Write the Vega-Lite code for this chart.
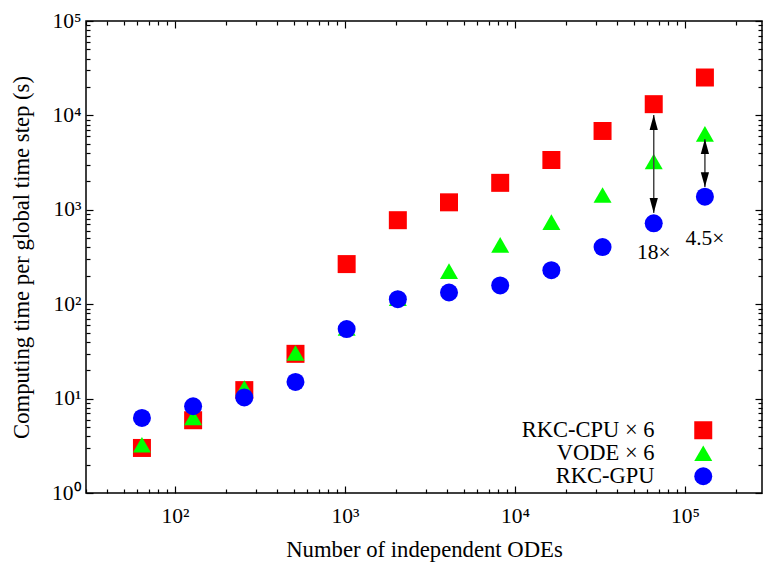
{
  "$schema": "https://vega.github.io/schema/vega-lite/v6.json",
  "width": 676,
  "height": 472,
  "autosize": "none",
  "padding": {"left": 86, "top": 21, "right": 1, "bottom": 69},
  "background": "white",
  "config": {
    "font": "Liberation Serif",
    "view": {"stroke": "black", "strokeWidth": 1.5},
    "axis": {"grid": false, "domain": false, "tickColor": "black", "labelColor": "black", "titleColor": "black", "labelFont": "Liberation Serif", "titleFont": "Liberation Serif", "titleFontWeight": "normal", "labelFontSize": 21.5, "titleFontSize": 22.7, "tickWidth": 1.2, "labelOverlap": false, "labelFlush": false, "labelBound": false}
  },
  "datasets": {
    "pts": [
      {"n": 64, "t": 3.0, "s": "RKC-CPU × 6"},
      {"n": 128, "t": 5.9, "s": "RKC-CPU × 6"},
      {"n": 256, "t": 12.3, "s": "RKC-CPU × 6"},
      {"n": 512, "t": 29.8, "s": "RKC-CPU × 6"},
      {"n": 1024, "t": 266, "s": "RKC-CPU × 6"},
      {"n": 2048, "t": 776, "s": "RKC-CPU × 6"},
      {"n": 4096, "t": 1200, "s": "RKC-CPU × 6"},
      {"n": 8192, "t": 1930, "s": "RKC-CPU × 6"},
      {"n": 16384, "t": 3370, "s": "RKC-CPU × 6"},
      {"n": 32768, "t": 6840, "s": "RKC-CPU × 6"},
      {"n": 65536, "t": 13150, "s": "RKC-CPU × 6"},
      {"n": 131072, "t": 25200, "s": "RKC-CPU × 6"},
      {"n": 64, "t": 3.24, "s": "VODE × 6"},
      {"n": 128, "t": 6.3, "s": "VODE × 6"},
      {"n": 256, "t": 12.9, "s": "VODE × 6"},
      {"n": 512, "t": 30.4, "s": "VODE × 6"},
      {"n": 1024, "t": 56, "s": "VODE × 6"},
      {"n": 2048, "t": 116, "s": "VODE × 6"},
      {"n": 4096, "t": 224, "s": "VODE × 6"},
      {"n": 8192, "t": 425, "s": "VODE × 6"},
      {"n": 16384, "t": 740, "s": "VODE × 6"},
      {"n": 32768, "t": 1435, "s": "VODE × 6"},
      {"n": 65536, "t": 3250, "s": "VODE × 6"},
      {"n": 131072, "t": 6370, "s": "VODE × 6"},
      {"n": 64, "t": 6.24, "s": "RKC-GPU"},
      {"n": 128, "t": 8.3, "s": "RKC-GPU"},
      {"n": 256, "t": 10.3, "s": "RKC-GPU"},
      {"n": 512, "t": 15.0, "s": "RKC-GPU"},
      {"n": 1024, "t": 54.5, "s": "RKC-GPU"},
      {"n": 2048, "t": 113, "s": "RKC-GPU"},
      {"n": 4096, "t": 133, "s": "RKC-GPU"},
      {"n": 8192, "t": 158, "s": "RKC-GPU"},
      {"n": 16384, "t": 229, "s": "RKC-GPU"},
      {"n": 32768, "t": 403, "s": "RKC-GPU"},
      {"n": 65536, "t": 719, "s": "RKC-GPU"},
      {"n": 131072, "t": 1377, "s": "RKC-GPU"}
    ],
    "arrows": [
      {"n": 65536, "top": 10100, "bottom": 927},
      {"n": 131072, "top": 5630, "bottom": 1740}
    ],
    "notes": [
      {"n": 65536, "t": 348, "label": "18×"},
      {"n": 131072, "t": 490, "label": "4.5×"}
    ]
  },
  "layer": [
    {
      "data": {"name": "pts"},
      "mark": {"type": "point", "filled": true, "size": 324, "opacity": 1, "strokeWidth": 0},
      "encoding": {
        "x": {"field": "n", "type": "quantitative",
          "scale": {"type": "log", "domain": [30, 284000], "nice": false},
          "axis": {"orient": "bottom", "title": "Number of independent ODEs",
            "values": [30,40,50,60,70,80,90,100,200,300,400,500,600,700,800,900,1000,2000,3000,4000,5000,6000,7000,8000,9000,10000,20000,30000,40000,50000,60000,70000,80000,90000,100000,200000],
            "labelExpr": "abs(log(datum.value)/LN10 - round(log(datum.value)/LN10)) < 1e-6 ? '10' + ['⁰','¹','²','³','⁴','⁵'][round(log(datum.value)/LN10)] : ''",
            "tickSize": {"condition": {"test": "abs(log(datum.value)/LN10 - round(log(datum.value)/LN10)) < 1e-6", "value": -7}, "value": -4},
            "labelPadding": 19, "titlePadding": 9}},
        "y": {"field": "t", "type": "quantitative",
          "scale": {"type": "log", "domain": [1, 100000], "nice": false},
          "axis": {"orient": "left", "title": "Computing time per global time step (s)",
            "values": [1,2,3,4,5,6,7,8,9,10,20,30,40,50,60,70,80,90,100,200,300,400,500,600,700,800,900,1000,2000,3000,4000,5000,6000,7000,8000,9000,10000,20000,30000,40000,50000,60000,70000,80000,90000,100000],
            "labelExpr": "abs(log(datum.value)/LN10 - round(log(datum.value)/LN10)) < 1e-6 ? '10' + ['⁰','¹','²','³','⁴','⁵'][round(log(datum.value)/LN10)] : ''",
            "tickSize": {"condition": {"test": "abs(log(datum.value)/LN10 - round(log(datum.value)/LN10)) < 1e-6", "value": -7}, "value": -4},
            "labelPadding": 12, "titlePadding": 18}},
        "color": {"field": "s", "type": "nominal",
          "scale": {"domain": ["RKC-CPU × 6", "VODE × 6", "RKC-GPU"], "range": ["#ff0000", "#00ff00", "#0000ff"]},
          "legend": {"orient": "none", "legendX": 606, "legendY": 398, "title": null, "symbolSize": 324, "symbolStrokeWidth": 0, "labelFontSize": 22.5, "labelFont": "Liberation Serif", "labelColor": "black", "labelAlign": "right", "labelOffset": -60, "rowPadding": 0}},
        "shape": {"field": "s", "type": "nominal",
          "scale": {"domain": ["RKC-CPU × 6", "VODE × 6", "RKC-GPU"], "range": ["square", "triangle-up", "circle"]},
          "legend": {"orient": "none", "legendX": 606, "legendY": 398, "title": null, "symbolSize": 324, "symbolStrokeWidth": 0, "labelFontSize": 22.5, "labelFont": "Liberation Serif", "labelColor": "black", "labelAlign": "right", "labelOffset": -60, "rowPadding": 0}}
      }
    },
    {
      "data": {"name": "pts"},
      "mark": {"type": "point", "opacity": 0},
      "encoding": {
        "x": {"field": "n", "type": "quantitative",
          "scale": {"type": "log", "domain": [30, 284000], "nice": false},
          "axis": {"orient": "top", "title": null, "labels": false,
            "values": [30,40,50,60,70,80,90,100,200,300,400,500,600,700,800,900,1000,2000,3000,4000,5000,6000,7000,8000,9000,10000,20000,30000,40000,50000,60000,70000,80000,90000,100000,200000],
            "tickSize": {"condition": {"test": "abs(log(datum.value)/LN10 - round(log(datum.value)/LN10)) < 1e-6", "value": -7}, "value": -4}}},
        "y": {"field": "t", "type": "quantitative",
          "scale": {"type": "log", "domain": [1, 100000], "nice": false},
          "axis": {"orient": "right", "title": null, "labels": false,
            "values": [1,2,3,4,5,6,7,8,9,10,20,30,40,50,60,70,80,90,100,200,300,400,500,600,700,800,900,1000,2000,3000,4000,5000,6000,7000,8000,9000,10000,20000,30000,40000,50000,60000,70000,80000,90000,100000],
            "tickSize": {"condition": {"test": "abs(log(datum.value)/LN10 - round(log(datum.value)/LN10)) < 1e-6", "value": -7}, "value": -4}}}
      }
    },
    {
      "data": {"name": "arrows"},
      "mark": {"type": "rule", "color": "#444444", "strokeWidth": 1.5},
      "encoding": {
        "x": {"field": "n", "type": "quantitative", "axis": null},
        "y": {"field": "top", "type": "quantitative", "axis": null},
        "y2": {"field": "bottom"}
      }
    },
    {
      "data": {"name": "arrows"},
      "mark": {"type": "point", "filled": true, "color": "black", "opacity": 1, "strokeWidth": 0, "size": 56, "shape": "M0,0 L-1.1,4 L1.1,4 Z"},
      "encoding": {
        "x": {"field": "n", "type": "quantitative", "axis": null},
        "y": {"field": "top", "type": "quantitative", "axis": null}
      }
    },
    {
      "data": {"name": "arrows"},
      "mark": {"type": "point", "filled": true, "color": "black", "opacity": 1, "strokeWidth": 0, "size": 56, "shape": "M0,0 L-1.1,-4 L1.1,-4 Z"},
      "encoding": {
        "x": {"field": "n", "type": "quantitative", "axis": null},
        "y": {"field": "bottom", "type": "quantitative", "axis": null}
      }
    },
    {
      "data": {"name": "notes"},
      "mark": {"type": "text", "font": "Liberation Serif", "fontSize": 21.5, "color": "black", "align": "center", "baseline": "middle"},
      "encoding": {
        "x": {"field": "n", "type": "quantitative", "axis": null},
        "y": {"field": "t", "type": "quantitative", "axis": null},
        "text": {"field": "label"}
      }
    }
  ],
  "resolve": {"axis": {"x": "independent", "y": "independent"}}
}
